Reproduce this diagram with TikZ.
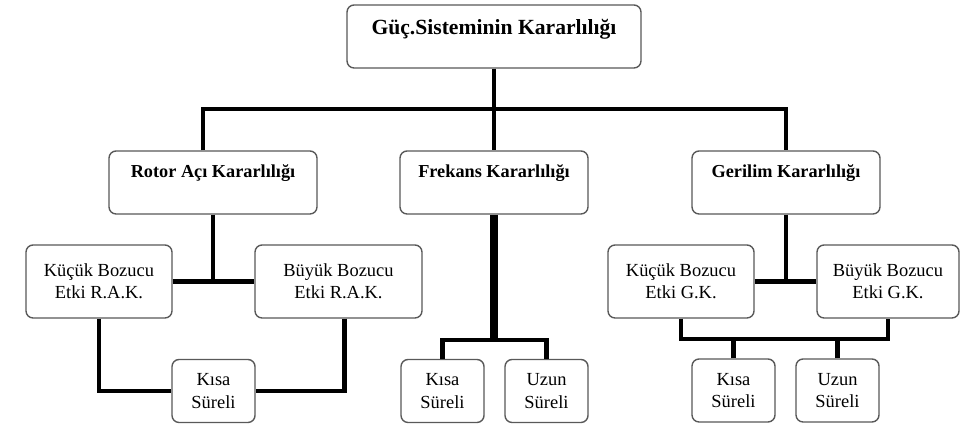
\documentclass[tikz,border=0pt]{standalone}
\usepackage{fontspec}
\setmainfont{Liberation Serif}
\usepackage{tikz}
\usetikzlibrary{positioning,calc}
\tikzset{
  box/.style={draw=gray!70!black, line width=0.8pt, rounded corners=4pt, fill=white, align=center, inner sep=0pt, font=\fontsize{10.5}{12.6}\selectfont},
  headbox/.style={box, font=\bfseries\fontsize{10.4}{12.5}\selectfont, text height=7.5pt, text depth=13pt},
  link/.style={line width=2.3pt},
}

\begin{document}
\begin{tikzpicture}[x=0.02cm, y=-0.02cm]
  \useasboundingbox[fill=white] (0,0) rectangle (960,445);

  \node[headbox, font=\bfseries\fontsize{12.3}{14.8}\selectfont, text height=9pt, text depth=11pt,
        minimum width=5.88cm, minimum height=1.26cm] (top) at (494,36.5) {Güç.Sisteminin Kararlılığı};
  \node[headbox, minimum width=4.16cm, minimum height=1.26cm] (rotor)   at (213,182.5) {Rotor Açı Kararlılığı};
  \node[headbox, minimum width=3.76cm, minimum height=1.26cm] (frekans) at (494,182.5) {Frekans Kararlılığı};
  \node[headbox, minimum width=3.76cm, minimum height=1.26cm] (gerilim) at (786,182.5) {Gerilim Kararlılığı};

  \node[box, minimum width=2.92cm, minimum height=1.46cm] (kucukR) at (99,281.5)   {Küçük Bozucu\\Etki R.A.K.};
  \node[box, minimum width=3.34cm, minimum height=1.46cm] (buyukR) at (338.5,281.5) {Büyük Bozucu\\Etki R.A.K.};
  \node[box, minimum width=2.92cm, minimum height=1.46cm] (kucukG) at (681,281.5)  {Küçük Bozucu\\Etki G.K.};
  \node[box, minimum width=2.84cm, minimum height=1.46cm] (buyukG) at (888,281.5)  {Büyük Bozucu\\Etki G.K.};

  \node[box, minimum width=1.66cm, minimum height=1.26cm] (kisaR) at (213.5,391) {Kısa\\Süreli};
  \node[box, minimum width=1.66cm, minimum height=1.26cm] (kisaF) at (442.5,391) {Kısa\\Süreli};
  \node[box, minimum width=1.66cm, minimum height=1.26cm] (uzunF) at (546.5,391) {Uzun\\Süreli};
  \node[box, minimum width=1.66cm, minimum height=1.26cm] (kisaG) at (733.5,390.5) {Kısa\\Süreli};
  \node[box, minimum width=1.66cm, minimum height=1.26cm] (uzunG) at (837.5,390.5) {Uzun\\Süreli};

  \draw[link] (top) -- (frekans);
  \draw[link] ([xshift=-0.2cm]rotor.north) -- ++(0,-41) -| (gerilim.north);
  \draw[link] (rotor) -- (rotor |- kucukR);
  \draw[link] (kucukR) -- (buyukR);
  \draw[link] (kucukR.south) |- (kisaR.west);
  \draw[link] ([xshift=0.12cm]buyukR.south) |- (kisaR.east);
  \draw[link, line width=4pt] (frekans.south) -- ++(0,125) coordinate (fbus);
  \draw[link] (kisaF) |- (fbus) -| (uzunF);
  \draw[link] (gerilim) -- (gerilim |- kucukG);
  \draw[link] (kucukG) -- (buyukG);
  \draw[link] (kucukG.south) -- ++(0,20.5) coordinate (gbus) -| (buyukG.south);
  \draw[link] (kisaG) -- (kisaG |- gbus);
  \draw[link] (uzunG) -- (uzunG |- gbus);
\end{tikzpicture}
\end{document}
